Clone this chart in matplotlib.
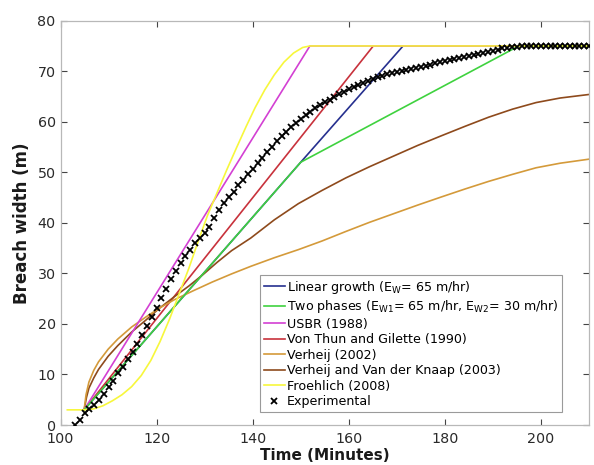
import matplotlib
matplotlib.use("Agg")
import matplotlib.pyplot as plt

# ---------------- data ----------------
t_linear = [104.9, 150.0, 171.3, 210]
w_linear = [3, 52, 75, 75]

t_two = [104.9, 150.0, 195.4, 210]
w_two = [3, 52, 75, 75]

t_usbr = [104.9, 151.9, 210]
w_usbr = [3, 75, 75]

t_vtg = [104.9, 165.1, 210]
w_vtg = [3, 75, 75]

t_verheij = [104.9, 105.3, 105.9, 106.9, 107.9, 109.9, 111.9, 114.8, 117.8,
             120.7, 123.7, 127.7, 131.6, 135.6, 139.6, 144.5, 149.5, 154.4,
             159.4, 164.3, 169.3, 174.3, 179.2, 184.2, 189.1, 194.1, 199.0,
             204.0, 210]
w_verheij = [3, 6.0, 8.5, 10.8, 12.5, 15.0, 17.0, 19.4, 21.4, 23.2, 24.8, 26.6,
             28.3, 29.9, 31.4, 33.1, 34.7, 36.4, 38.3, 40.1, 41.8, 43.5, 45.1,
             46.7, 48.2, 49.6, 50.9, 51.8, 52.6]

t_vvdk = [104.9, 105.4, 105.9, 106.9, 107.9, 109.9, 111.9, 114.8, 117.8, 120.7,
          123.7, 126.7, 129.7, 132.6, 135.6, 139.6, 144.5, 149.5, 154.4, 159.4,
          164.3, 169.3, 174.3, 179.2, 184.2, 189.1, 194.1, 199.0, 204.0, 210]
w_vvdk = [3, 5.5, 7.3, 9.3, 11.0, 13.6, 15.7, 18.4, 20.8, 23.2, 25.4, 27.5,
          29.8, 32.2, 34.5, 37.0, 40.6, 43.8, 46.4, 48.9, 51.1, 53.2, 55.3,
          57.2, 59.1, 60.9, 62.5, 63.8, 64.7, 65.4]

t_froehlich = [101.4, 104.9, 106.9, 108.8, 110.8, 112.8, 114.8, 116.8, 118.8,
               120.7, 122.7, 124.7, 126.7, 128.7, 130.6, 132.6, 134.6, 136.6,
               138.6, 140.5, 142.5, 144.5, 146.5, 148.5, 150.4, 151.9, 210]
w_froehlich = [3, 3, 3.2, 3.8, 4.8, 6.0, 7.6, 9.8, 12.8, 16.5, 21.0, 26.0,
               31.0, 36.5, 41.5, 46.0, 50.5, 54.8, 59.0, 62.8, 66.3, 69.3,
               71.8, 73.6, 74.7, 75, 75]

t_exp = list(range(103, 211))
w_exp = [0, 1.0, 2.3, 3.2, 4.0, 5.0, 6.2, 7.5, 8.8, 10.2, 11.5, 13.0, 14.5,
         16.0, 17.8, 19.5, 21.3, 23.2, 25.2, 27.0, 28.8, 30.4, 32.0, 33.4,
         34.7, 36.0, 37.0, 38.0, 39.2, 41.0, 42.6, 44.0, 45.1, 46.2, 47.4,
         48.5, 49.6, 50.7, 51.8, 52.9, 54.0, 55.0, 56.1, 57.1, 58.0, 58.9,
         59.8, 60.6, 61.3, 62.0, 62.7, 63.3, 63.9, 64.4, 64.9, 65.4, 65.9,
         66.4, 66.8, 67.3, 67.7, 68.1, 68.5, 68.8, 69.1, 69.4, 69.7, 69.9,
         70.1, 70.3, 70.5, 70.6, 70.8, 71.0, 71.3, 71.6, 71.9, 72.1, 72.3,
         72.5, 72.7, 72.9, 73.1, 73.3, 73.5, 73.7, 73.9, 74.1, 74.3, 74.5,
         74.6, 74.7, 74.8] + [74.9] * 15

labels = [
    r"Linear growth (E$_{\mathregular{W}}$= 65 m/hr)",
    r"Two phases (E$_{\mathregular{W1}}$= 65 m/hr, E$_{\mathregular{W2}}$= 30 m/hr)",
    "USBR (1988)",
    "Von Thun and Gilette (1990)",
    "Verheij (2002)",
    "Verheij and Van der Knaap (2003)",
    "Froehlich (2008)",
    "Experimental",
]
colors = ["#26308f", "#3fd23f", "#d340d3", "#c8323c", "#d49a3a", "#8e4a1c",
          "#f7f73c", "black"]

x_ticks = [100, 120, 140, 160, 180, 200]
y_ticks = [0, 10, 20, 30, 40, 50, 60, 70, 80]

# ---------------- figure ----------------
plt.rcParams["font.family"] = ["DejaVu Sans"]
fig = plt.figure(figsize=(5.94, 4.65), dpi=100)
ax = fig.add_axes([0.102, 0.086, 0.8895, 0.8695])

lw = 1.2
ax.plot(t_linear, w_linear, color=colors[0], lw=lw, label=labels[0], zorder=2)
ax.plot(t_two, w_two, color=colors[1], lw=lw, label=labels[1], zorder=3)
ax.plot(t_usbr, w_usbr, color=colors[2], lw=lw, label=labels[2], zorder=2.5)
ax.plot(t_vtg, w_vtg, color=colors[3], lw=lw, label=labels[3], zorder=2.2)
ax.plot(t_verheij, w_verheij, color=colors[4], lw=lw, label=labels[4], zorder=2.4)
ax.plot(t_vvdk, w_vvdk, color=colors[5], lw=lw, label=labels[5], zorder=2.3)
ax.plot(t_froehlich, w_froehlich, color=colors[6], lw=lw, label=labels[6], zorder=4)
ax.plot(t_exp, w_exp, linestyle="none", marker="x", markersize=4.8,
        markeredgewidth=1.3, color=colors[7], label=labels[7], zorder=5)

ax.set_xlim(100, 210)
ax.set_ylim(0, 80)
ax.set_xticks(x_ticks)
ax.set_yticks(y_ticks)

for s in ax.spines.values():
    s.set_color("#b8b8b8")
    s.set_linewidth(0.9)
ax.tick_params(direction="in", length=4, width=0.8, color="#444444",
               labelsize=10.3, labelcolor="#2a2a2a", top=True, right=True)
ax.tick_params(axis="x", pad=5)

ax.set_xlabel("Time (Minutes)", fontsize=11, fontweight="bold", color="#1a1a1a",
              labelpad=1.5)
ax.set_ylabel("Breach width (m)", fontsize=12, fontweight="bold", color="#1a1a1a",
              labelpad=5)

leg = ax.legend(loc="lower left", bbox_to_anchor=(0.377, 0.032), fontsize=9.1,
                frameon=True, fancybox=False, framealpha=1, edgecolor="#9a9a9a",
                handlelength=1.7, handletextpad=0.15, labelspacing=0.2,
                borderpad=0.3, borderaxespad=0, numpoints=1)
leg.get_frame().set_linewidth(0.8)

fig.savefig("out.png", dpi=100)
